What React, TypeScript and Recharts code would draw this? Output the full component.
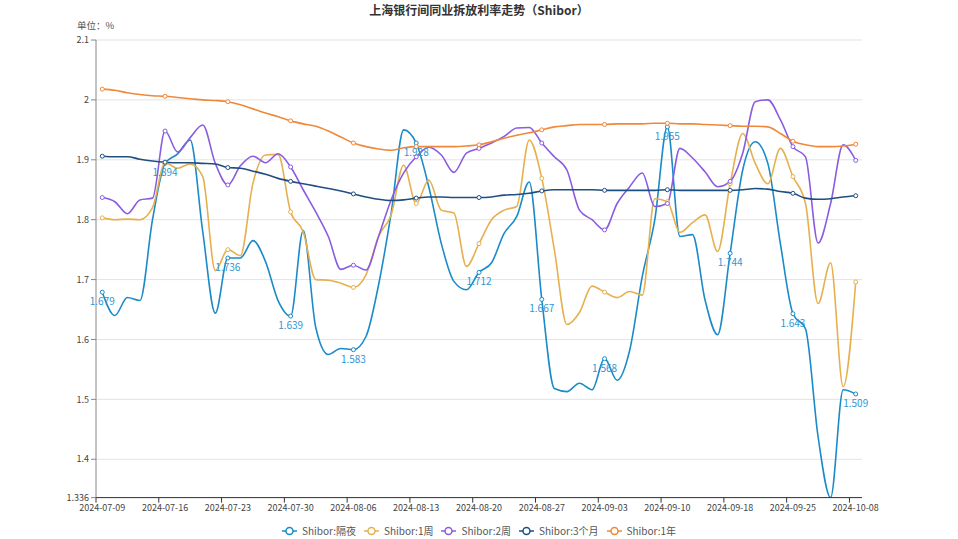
import React from 'react';
import { LineChart, Line, XAxis, YAxis, CartesianGrid, Legend, LabelList } from 'recharts';

// trading days (Shibor calendar), one entry per category
const dates = [
  '2024-07-09', '2024-07-10', '2024-07-11', '2024-07-12', '2024-07-15', '2024-07-16', '2024-07-17', '2024-07-18',
  '2024-07-19', '2024-07-22', '2024-07-23', '2024-07-24', '2024-07-25', '2024-07-26', '2024-07-29', '2024-07-30',
  '2024-07-31', '2024-08-01', '2024-08-02', '2024-08-05', '2024-08-06', '2024-08-07', '2024-08-08', '2024-08-09',
  '2024-08-12', '2024-08-13', '2024-08-14', '2024-08-15', '2024-08-16', '2024-08-19', '2024-08-20', '2024-08-21',
  '2024-08-22', '2024-08-23', '2024-08-26', '2024-08-27', '2024-08-28', '2024-08-29', '2024-08-30', '2024-09-02',
  '2024-09-03', '2024-09-04', '2024-09-05', '2024-09-06', '2024-09-09', '2024-09-10', '2024-09-11', '2024-09-12',
  '2024-09-13', '2024-09-14', '2024-09-18', '2024-09-19', '2024-09-20', '2024-09-23', '2024-09-24', '2024-09-25',
  '2024-09-26', '2024-09-27', '2024-09-29', '2024-09-30', '2024-10-08',
];

const overnight = [
  1.679, 1.640, 1.670, 1.665, 1.800, 1.894, 1.910, 1.933, 1.780, 1.644,
  1.736, 1.736, 1.765, 1.730, 1.665, 1.639, 1.782, 1.620, 1.575, 1.585,
  1.583, 1.605, 1.691, 1.810, 1.950, 1.928, 1.855, 1.760, 1.697, 1.683,
  1.712, 1.728, 1.777, 1.805, 1.863, 1.667, 1.518, 1.513, 1.527, 1.516,
  1.568, 1.532, 1.582, 1.705, 1.800, 1.955, 1.772, 1.775, 1.666, 1.608,
  1.744, 1.883, 1.930, 1.894, 1.760, 1.643, 1.618, 1.438, 1.336, 1.516,
  1.509,
];

const week1 = [
  1.803, 1.800, 1.801, 1.800, 1.820, 1.895, 1.886, 1.893, 1.872, 1.715,
  1.750, 1.740, 1.861, 1.908, 1.909, 1.813, 1.780, 1.700, 1.699, 1.694,
  1.687, 1.708, 1.772, 1.808, 1.891, 1.827, 1.866, 1.816, 1.811, 1.722,
  1.760, 1.800, 1.816, 1.822, 1.933, 1.869, 1.750, 1.625, 1.645, 1.689,
  1.679, 1.670, 1.680, 1.674, 1.835, 1.830, 1.779, 1.795, 1.808, 1.747,
  1.860, 1.944, 1.894, 1.860, 1.919, 1.872, 1.827, 1.660, 1.728, 1.521,
  1.696,
];

const week2 = [
  1.837, 1.830, 1.810, 1.833, 1.836, 1.948, 1.913, 1.937, 1.958, 1.894,
  1.858, 1.890, 1.906, 1.895, 1.910, 1.888, 1.850, 1.813, 1.772, 1.717,
  1.724, 1.716, 1.772, 1.833, 1.878, 1.905, 1.921, 1.908, 1.879, 1.911,
  1.919, 1.928, 1.939, 1.953, 1.954, 1.928, 1.905, 1.883, 1.816, 1.800,
  1.783, 1.827, 1.855, 1.878, 1.822, 1.827, 1.919, 1.903, 1.880, 1.855,
  1.864, 1.911, 1.997, 2.000, 1.967, 1.922, 1.905, 1.761, 1.827, 1.925,
  1.899,
];

const month3 = [
  1.906, 1.905, 1.905, 1.901, 1.898, 1.896, 1.895, 1.895, 1.894, 1.893,
  1.887, 1.886, 1.881, 1.876, 1.869, 1.864, 1.860, 1.856, 1.852, 1.848,
  1.843, 1.838, 1.834, 1.832, 1.833, 1.836, 1.838, 1.838, 1.837, 1.837,
  1.837, 1.838, 1.841, 1.842, 1.844, 1.848, 1.850, 1.850, 1.850, 1.850,
  1.849, 1.849, 1.849, 1.849, 1.849, 1.850, 1.849, 1.849, 1.849, 1.849,
  1.849, 1.850, 1.852, 1.851, 1.847, 1.844, 1.836, 1.834, 1.835, 1.838,
  1.840,
];

const year1 = [
  2.018, 2.016, 2.012, 2.009, 2.007, 2.006, 2.004, 2.002, 2.000, 1.999,
  1.997, 1.992, 1.985, 1.978, 1.972, 1.965, 1.960, 1.956, 1.948, 1.938,
  1.928, 1.922, 1.918, 1.916, 1.920, 1.922, 1.922, 1.922, 1.922, 1.923,
  1.925, 1.930, 1.936, 1.941, 1.945, 1.950, 1.955, 1.957, 1.959, 1.959,
  1.959, 1.960, 1.960, 1.960, 1.961, 1.961, 1.960, 1.960, 1.959, 1.958,
  1.957, 1.956, 1.956, 1.955, 1.944, 1.931, 1.925, 1.922, 1.922, 1.923,
  1.926,
];

const yTicks = [1.336, 1.4, 1.5, 1.6, 1.7, 1.8, 1.9, 2, 2.1];
const xTicks = dates.map((_, i) => i).filter((i) => i % 5 === 0);

const SERIES = [
  { key: 'on', name: 'Shibor:隔夜', color: '#1a8bc8' },
  { key: 'w1', name: 'Shibor:1周', color: '#e6b04e' },
  { key: 'w2', name: 'Shibor:2周', color: '#8a5ce2' },
  { key: 'm3', name: 'Shibor:3个月', color: '#1f4f82' },
  { key: 'y1', name: 'Shibor:1年', color: '#f0883a' },
];

const data = dates.map((date, i) => ({
  idx: i,
  date,
  on: overnight[i],
  w1: week1[i],
  w2: week2[i],
  m3: month3[i],
  y1: year1[i],
  onLabel: i % 5 === 0 ? overnight[i] : null,
}));

const W = 958;
const H = 539;
const LEFT = 96;
const RIGHT = 96;
const BAND = (W - LEFT - RIGHT) / dates.length;
const FONT = "'Noto Sans CJK SC', 'Microsoft YaHei', sans-serif";

const makeDot = (color: string) => (props: any) => {
  const { cx, cy, index } = props;
  if (index % 5 !== 0) return <g key={`e-${color}-${index}`} />;
  return <circle key={`d-${color}-${index}`} cx={cx} cy={cy} r={2} fill="#fff" stroke={color} strokeWidth={1} />;
};

const XTick = (props: any) => {
  const { x, y, payload } = props;
  return (
    <g>
      <line x1={x - BAND / 2} x2={x - BAND / 2} y1={y - 8} y2={y - 3} stroke="#333" />
      <text x={x} y={y + 5} textAnchor="middle" fontSize={9} fill="#444" fontFamily={FONT}>
        {dates[payload.value]}
      </text>
    </g>
  );
};

const OnLabel = (props: any) => {
  const { value } = props;
  if (value == null) return null;
  const x = props.viewBox?.x ?? props.x;
  const y = props.viewBox?.y ?? props.y;
  return (
    <text x={x} y={y + 13} textAnchor="middle" fontSize={10} fill="#2e97d4" fontFamily={FONT}>
      {Number(value).toFixed(3)}
    </text>
  );
};

const LegendContent = () => (
  <div style={{ display: 'flex', justifyContent: 'center', gap: 8, fontFamily: FONT, fontSize: 10, color: '#555' }}>
    {SERIES.map((s) => (
      <div key={s.key} style={{ display: 'flex', alignItems: 'center' }}>
        <svg width={15} height={12} style={{ marginRight: 5 }}>
          <line x1={0} x2={15} y1={6} y2={6} stroke={s.color} strokeWidth={1.5} />
          <circle cx={7.5} cy={6} r={3.5} fill="#fff" stroke={s.color} strokeWidth={1.5} />
        </svg>
        <span>{s.name}</span>
      </div>
    ))}
  </div>
);

export default function App() {
  return (
    <div style={{ position: 'absolute', left: 0, top: 0, width: W, height: H, background: '#fff', fontFamily: FONT }}>
      <div style={{ position: 'absolute', top: 1, left: 0, width: W, textAlign: 'center', fontSize: 12, fontWeight: 'bold', color: '#333' }}>
        上海银行间同业拆放利率走势（Shibor）
      </div>
      <div style={{ position: 'absolute', top: 18, left: 77, fontSize: 9.5, color: '#555' }}>单位：%</div>
      <LineChart width={W} height={H} data={data} margin={{ top: 40, right: RIGHT, left: 0, bottom: 0 }}>
        <CartesianGrid horizontal vertical={false} stroke="#e3e3e3" />
        <XAxis
          dataKey="idx"
          type="number"
          domain={[-0.5, dates.length - 0.5]}
          ticks={xTicks}
          interval={0}
          height={41.4}
          tickLine={false}
          tickSize={5}
          tickMargin={3}
          axisLine={{ stroke: '#333' }}
          tick={<XTick />}
        />
        <YAxis
          type="number"
          width={LEFT}
          domain={[1.336, 2.1]}
          ticks={yTicks}
          interval={0}
          allowDataOverflow
          tickSize={5}
          tickMargin={2}
          axisLine={{ stroke: '#888' }}
          tickLine={{ stroke: '#888' }}
          tick={{ fontSize: 9, fill: '#444', fontFamily: FONT }}
          tickFormatter={(v: number) => String(v)}
        />
        <Legend
          layout="horizontal"
          verticalAlign="middle"
          align="center"
          content={<LegendContent />}
          wrapperStyle={{ top: 523, left: 0, width: W }}
        />
        {SERIES.map((s) => (
          <Line
            key={s.key}
            type="monotone"
            dataKey={s.key}
            name={s.name}
            stroke={s.color}
            strokeWidth={1.6}
            dot={makeDot(s.color)}
            activeDot={false}
            isAnimationActive={false}
          >
            {s.key === 'on' && <LabelList dataKey="onLabel" content={<OnLabel />} />}
          </Line>
        ))}
      </LineChart>
    </div>
  );
}
